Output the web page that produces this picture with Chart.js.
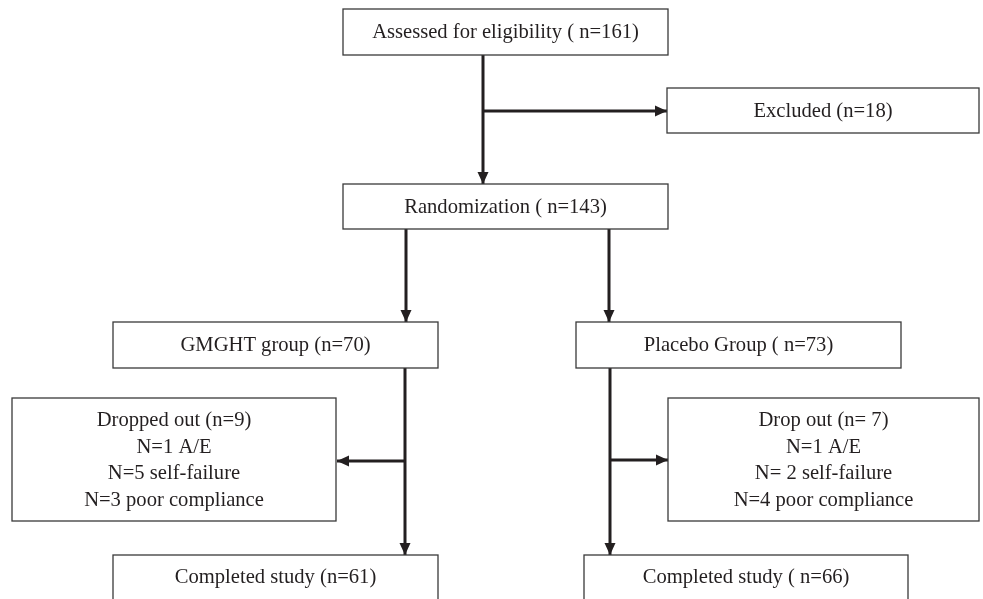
<!DOCTYPE html>
<html>
<head>
<meta charset="utf-8">
<script src="https://cdn.jsdelivr.net/npm/chart.js@4/dist/chart.umd.min.js"></script>
<style>
  html, body { margin: 0; padding: 0; background: #fff; }
  #wrap { width: 983px; height: 599px; }
</style>
</head>
<body>
<div id="wrap"><canvas id="flowChart"></canvas></div>
<script>
// flow stages and their counts
const stageNames = ['Assessed for eligibility ( n=', 'Excluded (n=', 'Randomization ( n=', 'GMGHT group (n=',
  'Placebo Group ( n=', 'Dropped out (n=', 'Drop out (n= ', 'Completed study (n=', 'Completed study ( n='];
const stageCounts = [161, 18, 143, 70, 73, 9, 7, 61, 66];
// reasons for drop out per arm: [A/E, self-failure, poor compliance]
const dropReasons = ['A/E', 'self-failure', 'poor compliance'];
const dropGMGHT = [1, 5, 3];
const dropPlacebo = [1, 2, 4];

// layout of the boxes in chart units (left, top, right, bottom)
const boxLeft   = [343, 667, 343, 113, 576, 12, 668, 113, 584];
const boxTop    = [9, 88, 184, 322, 322, 398, 398, 555, 555];
const boxRight  = [668, 979, 668, 438, 901, 336, 979, 438, 908];
const boxBottom = [55, 133, 229, 368, 368, 521, 521, 601, 601];

// connectors: list of points, last one gets the arrow head
const links = [
  [[483, 55], [483, 184]],
  [[483, 111], [667, 111]],
  [[406, 229], [406, 322]],
  [[609, 229], [609, 322]],
  [[405, 368], [405, 555]],
  [[405, 461], [337, 461]],
  [[610, 368], [610, 555]],
  [[610, 460], [668, 460]]
];

const ink = '#231f20';

function boxLines(i) {
  let first = stageNames[i] + stageCounts[i] + ')';
  if (i === 5 || i === 6) {
    let arr = i === 5 ? dropGMGHT : dropPlacebo;
    return [first,
      'N=' + arr[0] + ' ' + dropReasons[0],
      'N=' + (i === 6 ? ' ' : '') + arr[1] + ' ' + dropReasons[1],
      'N=' + arr[2] + ' ' + dropReasons[2]];
  }
  return [first];
}

const boxPlugin = {
  id: 'boxes',
  afterDatasetsDraw(chart) {
    const ctx = chart.ctx;
    const xs = chart.scales.x, ys = chart.scales.y;
    ctx.save();
    // arrow heads
    ctx.fillStyle = ink;
    links.forEach(pts => {
      let a = pts[pts.length - 2], b = pts[pts.length - 1];
      let x1 = xs.getPixelForValue(a[0]), y1 = ys.getPixelForValue(a[1]);
      let x2 = xs.getPixelForValue(b[0]), y2 = ys.getPixelForValue(b[1]);
      let ang = Math.atan2(y2 - y1, x2 - x1);
      ctx.save();
      ctx.translate(x2, y2);
      ctx.rotate(ang);
      ctx.beginPath();
      ctx.moveTo(0, 0);
      ctx.lineTo(-12, -5.5);
      ctx.lineTo(-12, 5.5);
      ctx.closePath();
      ctx.fill();
      ctx.restore();
    });
    // boxes
    for (let i = 0; i < stageNames.length; i++) {
      let l = xs.getPixelForValue(boxLeft[i]), r = xs.getPixelForValue(boxRight[i]);
      let t = ys.getPixelForValue(boxTop[i]), b = ys.getPixelForValue(boxBottom[i]);
      ctx.fillStyle = '#fff';
      ctx.fillRect(l, t, r - l, b - t);
      ctx.strokeStyle = '#3a3a3a';
      ctx.lineWidth = 1.3;
      ctx.strokeRect(l, t, r - l, b - t);
      let lines = boxLines(i);
      ctx.fillStyle = ink;
      ctx.font = '20.6px "Liberation Serif", "DejaVu Serif", serif';
      ctx.textAlign = 'center';
      ctx.textBaseline = 'middle';
      let cx = (l + r) / 2;
      let cy = i >= 7 ? t + 23 : (t + b) / 2 + 1;
      let gap = 26.7;
      lines.forEach((s, k) => {
        ctx.fillText(s, cx, cy + (k - (lines.length - 1) / 2) * gap);
      });
    }
    ctx.restore();
  }
};

new Chart(document.getElementById('flowChart'), {
  type: 'scatter',
  data: {
    datasets: links.map(pts => ({
      data: pts.map(p => ({x: p[0], y: p[1]})),
      showLine: true,
      borderColor: ink,
      borderWidth: 3,
      pointRadius: 0,
      fill: false
    }))
  },
  options: {
    responsive: true,
    maintainAspectRatio: false,
    animation: false,
    layout: {padding: 0},
    plugins: {legend: {display: false}, tooltip: {enabled: false}},
    scales: {
      x: {type: 'linear', min: 0, max: 983, display: false},
      y: {type: 'linear', min: 0, max: 599, reverse: true, display: false}
    }
  },
  plugins: [boxPlugin]
});
</script>
</body>
</html>
